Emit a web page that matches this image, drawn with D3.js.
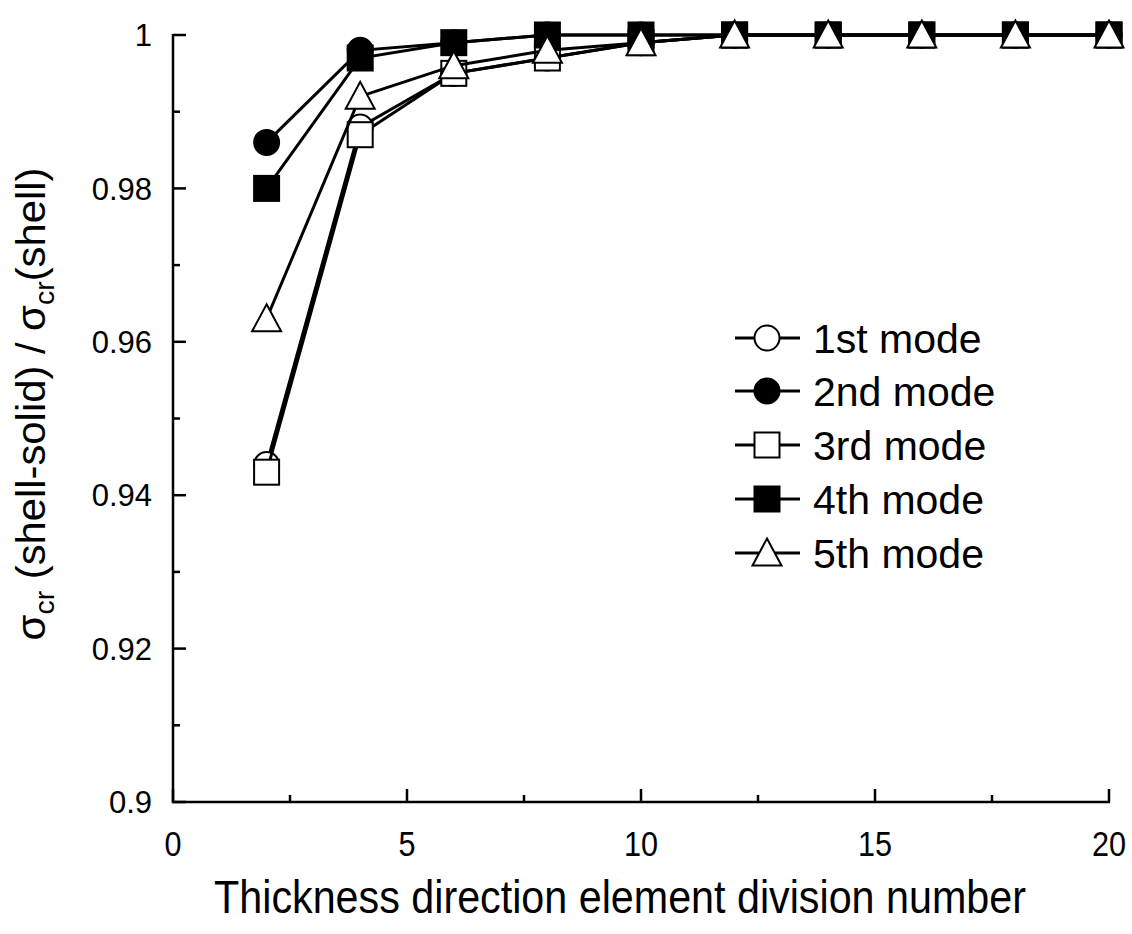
<!DOCTYPE html>
<html><head><meta charset="utf-8">
<script src="https://cdn.jsdelivr.net/npm/d3@7"></script>
<style>html,body{margin:0;padding:0;background:#fff;} svg{display:block;} text{font-family:"Liberation Sans",Arial,sans-serif;fill:#000;}</style>
</head><body>
<script>
const xValues = [2, 4, 6, 8, 10, 12, 14, 16, 18, 20];
const mode1 = [0.944, 0.988, 0.995, 0.997, 0.999, 1, 1, 1, 1, 1];
const mode2 = [0.986, 0.998, 0.999, 1, 1, 1, 1, 1, 1, 1];
const mode3 = [0.943, 0.987, 0.995, 0.997, 0.999, 1, 1, 1, 1, 1];
const mode4 = [0.980, 0.997, 0.999, 1, 1, 1, 1, 1, 1, 1];
const mode5 = [0.963, 0.992, 0.996, 0.998, 0.999, 1, 1, 1, 1, 1];
const seriesNames = ["1st mode", "2nd mode", "3rd mode", "4th mode", "5th mode"];
const xTickLabels = ["0", "5", "10", "15", "20"];
const yTickLabels = ["0.9", "0.92", "0.94", "0.96", "0.98", "1"];

const series = [
  {name: seriesNames[0], values: mode1, shape: "circle", fill: "#fff"},
  {name: seriesNames[1], values: mode2, shape: "circle", fill: "#000"},
  {name: seriesNames[2], values: mode3, shape: "square", fill: "#fff"},
  {name: seriesNames[3], values: mode4, shape: "square", fill: "#000"},
  {name: seriesNames[4], values: mode5, shape: "triangle", fill: "#fff"}
];

const W = 1132, H = 934;
const svg = d3.select("body").append("svg").attr("width", W).attr("height", H);
const x = d3.scaleLinear().domain([0, 20]).range([173, 1109]);
const y = d3.scaleLinear().domain([0.9, 1]).range([802, 35]);

// axes lines
const axisG = svg.append("g").attr("stroke", "#000").attr("stroke-width", 2.5).attr("fill", "none");
axisG.append("path").attr("d", `M${x(0)},${y(1)-1}V${y(0.9)}H${x(20)+1}`);
d3.range(0.9, 1.0001, 0.01).forEach((v, i) => {
  const len = (i % 2 === 0) ? 13 : 7;
  axisG.append("line").attr("x1", x(0)).attr("x2", x(0) + len).attr("y1", y(v)).attr("y2", y(v));
});
d3.range(0, 20.001, 2.5).forEach((v, i) => {
  const len = (i % 2 === 0) ? 13 : 7;
  axisG.append("line").attr("x1", x(v)).attr("x2", x(v)).attr("y1", y(0.9)).attr("y2", y(0.9) - len);
});

// tick labels
yTickLabels.forEach(t => {
  svg.append("text").attr("x", 152).attr("y", y(+t)).attr("dy", "0.36em")
    .attr("text-anchor", "end").attr("font-size", 31).text(t);
});
xTickLabels.forEach(t => {
  svg.append("text").attr("transform", `translate(${x(+t)},856) scale(0.85,1)`)
    .attr("text-anchor", "middle").attr("font-size", 36).text(t);
});

function squeeze(sel, target, tx, ty, rot) {
  const w = sel.node().getComputedTextLength();
  const s = target / w;
  sel.attr("transform", `translate(${tx},${ty}) rotate(${rot}) scale(${s},1)`);
}

// x title
const xt = svg.append("text").attr("font-size", 47).attr("text-anchor", "middle")
  .text("Thickness direction element division number");
squeeze(xt, 812, 620, 913, 0);

// y title
const yt = svg.append("text").attr("font-size", 41).attr("text-anchor", "middle");
yt.append("tspan").text("σ");
yt.append("tspan").attr("font-size", 28).attr("dy", 9).text("cr");
yt.append("tspan").attr("dy", -9).text(" (shell-solid)  / σ");
yt.append("tspan").attr("font-size", 28).attr("dy", 9).text("cr");
yt.append("tspan").attr("dy", -9).text("(shell)");
squeeze(yt, 473, 45, 404, -90);

// markers
function drawMarker(g, shape, cx, cy, fill, size) {
  if (shape === "circle") {
    g.append("circle").attr("cx", cx).attr("cy", cy).attr("r", size / 2)
      .attr("fill", fill).attr("stroke", "#000").attr("stroke-width", 2);
  } else if (shape === "square") {
    g.append("rect").attr("x", cx - size / 2).attr("y", cy - size / 2)
      .attr("width", size).attr("height", size)
      .attr("fill", fill).attr("stroke", "#000").attr("stroke-width", 2);
  } else {
    const hw = size * 0.58, hh = size * 0.5;
    g.append("path").attr("d", `M${cx},${cy - hh - 2}L${cx + hw},${cy + hh}L${cx - hw},${cy + hh}Z`)
      .attr("fill", fill).attr("stroke", "#000").attr("stroke-width", 2);
  }
}

const line = d3.line().x(d => x(d[0])).y(d => y(d[1]));
series.forEach(s => {
  const g = svg.append("g");
  const pts = xValues.map((xv, i) => [xv, s.values[i]]);
  g.append("path").attr("d", line(pts)).attr("fill", "none")
    .attr("stroke", "#000").attr("stroke-width", 3);
  pts.forEach(p => drawMarker(g, s.shape, x(p[0]), y(p[1]), s.fill, 25));
});

// legend
const legRows = [338, 391, 445, 499, 553];
series.forEach((s, i) => {
  const g = svg.append("g");
  const cy = legRows[i];
  g.append("line").attr("x1", 735).attr("x2", 800).attr("y1", cy).attr("y2", cy)
    .attr("stroke", "#000").attr("stroke-width", 3);
  drawMarker(g, s.shape, 767, cy, s.fill, 25);
  g.append("text").attr("x", 813).attr("y", cy).attr("dy", "0.36em")
    .attr("font-size", 41).text(s.name);
});
</script>
</body></html>
